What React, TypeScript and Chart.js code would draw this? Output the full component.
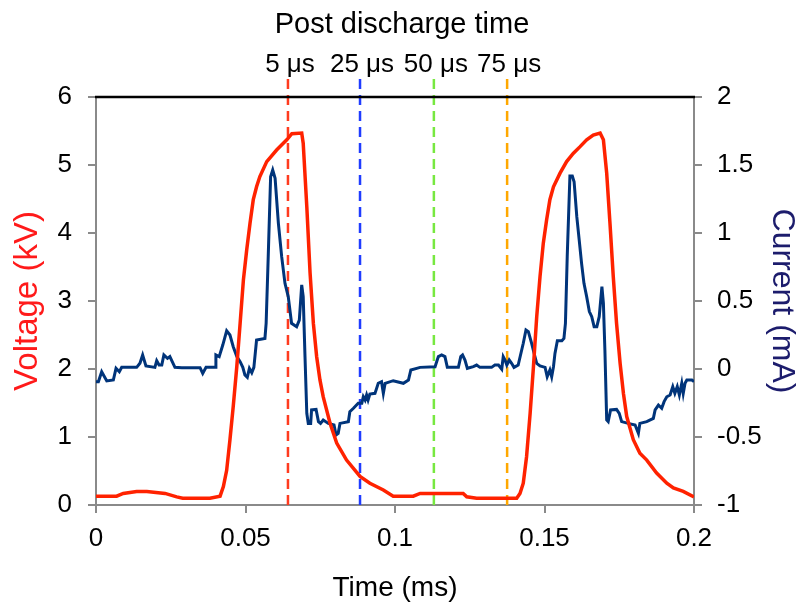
import React, { useEffect, useRef } from "react";
import { Chart, registerables } from "chart.js";

Chart.register(...registerables);

// Voltage trace (time in ms, voltage in kV)
const voltageTime = [
  0, 0.0069, 0.0091, 0.0136, 0.017, 0.0231, 0.027, 0.029, 0.0381, 0.0415,
  0.0426, 0.0437, 0.0448, 0.0459, 0.0471, 0.0482, 0.0493, 0.0504, 0.0515, 0.0526,
  0.0537, 0.0548, 0.0571, 0.0604, 0.0638, 0.0655, 0.0688, 0.0693, 0.0705, 0.0716,
  0.0727, 0.0738, 0.0749, 0.076, 0.0783, 0.0805, 0.0838, 0.0883, 0.0916, 0.0961,
  0.0994, 0.1061, 0.1084, 0.1184, 0.1228, 0.124, 0.1273, 0.1407, 0.1418, 0.1429,
  0.144, 0.1452, 0.1463, 0.1474, 0.1485, 0.1496, 0.1507, 0.1518, 0.153, 0.1552,
  0.1574, 0.1596, 0.1619, 0.1641, 0.1663, 0.1686, 0.1697, 0.1708, 0.1719, 0.173,
  0.1741, 0.1753, 0.1764, 0.1775, 0.1797, 0.1819, 0.1842, 0.1875, 0.1909, 0.1931,
  0.1964, 0.2,
];
const voltageKV = [
  0.13, 0.13, 0.17, 0.2, 0.2, 0.17, 0.12, 0.1, 0.1, 0.13,
  0.27, 0.51, 0.96, 1.45, 2.04, 2.67, 3.31, 3.75, 4.14, 4.49,
  4.68, 4.83, 5.05, 5.22, 5.37, 5.46, 5.47, 5.32, 4.39, 3.41,
  2.67, 2.18, 1.84, 1.59, 1.2, 0.91, 0.66, 0.42, 0.32, 0.22,
  0.13, 0.13, 0.17, 0.17, 0.17, 0.12, 0.1, 0.1, 0.17, 0.32,
  0.71, 1.35, 2.03, 2.77, 3.36, 3.85, 4.19, 4.49, 4.68, 4.88,
  5.05, 5.17, 5.27, 5.37, 5.44, 5.47, 5.37, 4.88, 4.14, 3.36,
  2.67, 2.08, 1.64, 1.3, 0.96, 0.76, 0.66, 0.47, 0.32, 0.25,
  0.2, 0.12,
];

// Current trace (time in ms, current in mA)
const currentTime = [
  0, 0.0008, 0.0019, 0.0036, 0.0058, 0.0067, 0.0078, 0.0086, 0.0136, 0.0147,
  0.0156, 0.0167, 0.0197, 0.0203, 0.0211, 0.022, 0.0227, 0.0239, 0.0247, 0.0264,
  0.0287, 0.0348, 0.0357, 0.0368, 0.0398, 0.0401, 0.0412, 0.0424, 0.0437, 0.0448,
  0.0459, 0.0471, 0.0482, 0.0491, 0.0498, 0.0506, 0.0513, 0.0521, 0.0528, 0.0537,
  0.0565, 0.0569, 0.0576, 0.0584, 0.0591, 0.0599, 0.061, 0.0621, 0.0632, 0.0643,
  0.0654, 0.0671, 0.068, 0.0688, 0.0693, 0.0699, 0.0705, 0.071, 0.0718, 0.0721,
  0.0736, 0.0744, 0.0751, 0.076, 0.0777, 0.0796, 0.0803, 0.081, 0.0816, 0.0844,
  0.0849, 0.0861, 0.0877, 0.0889, 0.0894, 0.09, 0.0905, 0.091, 0.0916, 0.0933,
  0.0944, 0.0955, 0.0961, 0.0967, 0.0994, 0.1028, 0.1045, 0.1053, 0.1084, 0.1134,
  0.1145, 0.1156, 0.1167, 0.1175, 0.1212, 0.122, 0.1226, 0.1234, 0.1242, 0.1262,
  0.1273, 0.1284, 0.1323, 0.1334, 0.1346, 0.1357, 0.1362, 0.1368, 0.1374, 0.1382,
  0.139, 0.1398, 0.1412, 0.1429, 0.1438, 0.1446, 0.1457, 0.1468, 0.1474, 0.1485,
  0.1502, 0.1509, 0.1518, 0.1524, 0.153, 0.1535, 0.1543, 0.1558, 0.1565, 0.157,
  0.1576, 0.1585, 0.1593, 0.1599, 0.1608, 0.1616, 0.1624, 0.1632, 0.1641, 0.165,
  0.1658, 0.1666, 0.1675, 0.1683, 0.1692, 0.1697, 0.1702, 0.1708, 0.1713, 0.1721,
  0.1741, 0.175, 0.1758, 0.178, 0.1803, 0.1814, 0.1819, 0.1842, 0.1864, 0.187,
  0.1881, 0.1892, 0.19, 0.1909, 0.192, 0.1929, 0.1936, 0.1944, 0.1951, 0.1959,
  0.1964, 0.197, 0.1976, 0.1993, 0.2,
];
const currentMA = [
  -0.093, -0.093, -0.02, -0.088, -0.081, 0.005, -0.02, 0.012, 0.012, 0.042,
  0.103, 0.022, 0.012, 0.061, 0.029, 0.029, 0.103, 0.078, 0.091, 0.012,
  0.01, 0.01, -0.032, 0.012, 0.012, 0.103, 0.091, 0.176, 0.281, 0.25,
  0.164, 0.091, 0.054, 0.012, -0.044, -0.061, 0.005, -0.027, 0.012, 0.213,
  0.225, 0.336, 0.826, 1.414, 1.463, 1.402, 1.071, 0.826, 0.63, 0.532,
  0.336, 0.311, 0.36, 0.618, 0.532, 0.091, -0.326, -0.4, -0.4, -0.301,
  -0.297, -0.387, -0.4, -0.375, -0.4, -0.412, -0.485, -0.473, -0.4, -0.387,
  -0.314, -0.289, -0.252, -0.252, -0.204, -0.228, -0.191, -0.228, -0.184, -0.179,
  -0.105, -0.093, -0.179, -0.105, -0.086, -0.105, -0.081, -0.007, 0.012, 0.017,
  0.091, 0.103, 0.091, 0.012, 0.012, 0.091, 0.103, 0.066, 0.005, 0.017,
  0.029, 0.012, 0.012, 0.029, 0.029, -0.002, 0.091, 0.066, 0.029, 0.066,
  0.042, 0.012, 0.029, 0.189, 0.287, 0.275, 0.189, 0.091, 0.042, 0.022,
  0.012, -0.057, -0.007, -0.057, 0.017, 0.115, 0.208, 0.208, 0.225, 0.336,
  0.826, 1.419, 1.419, 1.377, 1.12, 0.949, 0.777, 0.63, 0.532, 0.422,
  0.385, 0.311, 0.311, 0.385, 0.605, 0.483, 0.14, -0.375, -0.387, -0.301,
  -0.297, -0.326, -0.387, -0.4, -0.412, -0.473, -0.4, -0.387, -0.363, -0.301,
  -0.265, -0.289, -0.24, -0.204, -0.191, -0.13, -0.179, -0.13, -0.191, -0.105,
  -0.179, -0.105, -0.081, -0.081, -0.093,
];

// Post-discharge markers
const markerTimes = [0.0642, 0.0883, 0.113, 0.1375];
const markerLabels = ["5 μs", "25 μs", "50 μs", "75 μs"];
const markerColors = ["#ff3b1f", "#1f3cff", "#77e840", "#ffa800"];
const markerTitle = "Post discharge time";

const xTitle = "Time (ms)";
const yLeftTitle = "Voltage (kV)";
const yRightTitle = "Current (mA)";

const SANS = '"Liberation Sans", Arial, sans-serif';

const fmt = (v: any) => String(+Number(v).toFixed(3));

const markerPlugin = {
  id: "markers",
  beforeDatasetsDraw(chart: any) {
    const { ctx, chartArea, scales } = chart;
    ctx.save();
    ctx.lineWidth = 2.5;
    ctx.setLineDash([10, 6]);
    markerTimes.forEach((t, i) => {
      const px = scales.x.getPixelForValue(t);
      ctx.strokeStyle = markerColors[i];
      ctx.beginPath();
      ctx.moveTo(px, chartArea.top - 18);
      ctx.lineTo(px, chartArea.bottom);
      ctx.stroke();
    });
    ctx.restore();
  },
  afterDatasetsDraw(chart: any) {
    const { ctx, chartArea, scales } = chart;
    ctx.save();
    ctx.strokeStyle = "#000";
    ctx.lineWidth = 2.5;
    ctx.beginPath();
    ctx.moveTo(chartArea.left - 1, chartArea.top);
    ctx.lineTo(chartArea.right + 1, chartArea.top);
    ctx.stroke();
    ctx.fillStyle = "#000";
    ctx.textAlign = "center";
    ctx.textBaseline = "alphabetic";
    ctx.font = `26px ${SANS}`;
    markerTimes.forEach((t, i) => {
      const px = scales.x.getPixelForValue(t);
      ctx.fillText(markerLabels[i], px + 2, chartArea.top - 25);
    });
    ctx.font = `29px ${SANS}`;
    ctx.fillText(markerTitle, (chartArea.left + chartArea.right) / 2 + 7, chartArea.top - 64);
    ctx.restore();
  },
};

export default function App() {
  const ref = useRef<HTMLCanvasElement | null>(null);
  useEffect(() => {
    if (!ref.current) return;
    const voltageData = voltageTime.map((t, i) => ({ x: t, y: voltageKV[i] }));
    const currentData = currentTime.map((t, i) => ({ x: t, y: currentMA[i] }));
    const axisGrey = "#8a8a8a";
    const tickFont = { family: SANS, size: 26 };
    const chart = new Chart(ref.current, {
      type: "line",
      data: {
        datasets: [
          {
            label: "Voltage",
            data: voltageData,
            yAxisID: "yV",
            borderColor: "#ff2200",
            borderWidth: 3.5,
            pointRadius: 0,
            tension: 0,
            fill: false,
          },
          {
            label: "Current",
            data: currentData,
            yAxisID: "yI",
            borderColor: "#00347a",
            borderWidth: 3,
            pointRadius: 0,
            tension: 0,
            fill: false,
          },
        ],
      },
      options: {
        responsive: false,
        animation: false,
        layout: { padding: { top: 97, left: 0, right: 0, bottom: 0 } },
        plugins: {
          legend: { display: false },
          tooltip: { enabled: false },
          title: { display: false },
        },
        scales: {
          x: {
            type: "linear",
            position: "bottom",
            min: 0,
            max: 0.2,
            ticks: {
              stepSize: 0.05,
              color: "#000",
              font: tickFont,
              padding: 10,
              maxRotation: 0,
              callback: fmt,
            },
            grid: {
              drawOnChartArea: false,
              drawTicks: true,
              tickLength: 8,
              color: axisGrey,
              lineWidth: 2,
            },
            border: { color: axisGrey, width: 2 },
            title: {
              display: true,
              text: xTitle,
              color: "#000",
              font: { family: SANS, size: 28 },
              padding: { top: 0, bottom: 1 },
            },
            afterFit(scale: any) {
              scale.height = 101;
            },
          },
          yV: {
            type: "linear",
            position: "left",
            min: 0,
            max: 6,
            ticks: {
              stepSize: 1,
              color: "#000",
              font: tickFont,
              padding: 16,
              callback: fmt,
            },
            grid: {
              drawOnChartArea: false,
              drawTicks: true,
              tickLength: 8,
              color: axisGrey,
              lineWidth: 2,
            },
            border: { color: axisGrey, width: 2 },
            title: {
              display: true,
              text: yLeftTitle,
              color: "#ff1a1a",
              font: { family: SANS, size: 33 },
              padding: { top: 8, bottom: 0 },
            },
            afterFit(scale: any) {
              scale.width = 96;
            },
          },
          yI: {
            type: "linear",
            position: "right",
            min: -1,
            max: 2,
            ticks: {
              stepSize: 0.5,
              color: "#000",
              font: tickFont,
              padding: 15,
              callback: fmt,
            },
            grid: {
              drawOnChartArea: false,
              drawTicks: true,
              tickLength: 8,
              color: axisGrey,
              lineWidth: 2,
            },
            border: { color: axisGrey, width: 2 },
            title: {
              display: true,
              text: yRightTitle,
              color: "#1c1c6c",
              font: { family: SANS, size: 32 },
              padding: { top: 0, bottom: 0 },
            },
            afterFit(scale: any) {
              scale.width = 107;
            },
          },
        },
      },
      plugins: [markerPlugin],
    });
    return () => chart.destroy();
  }, []);
  return (
    <canvas
      ref={ref}
      width={801}
      height={606}
      style={{ position: "absolute", left: 0, top: 0, display: "block", background: "#fff" }}
    />
  );
}
